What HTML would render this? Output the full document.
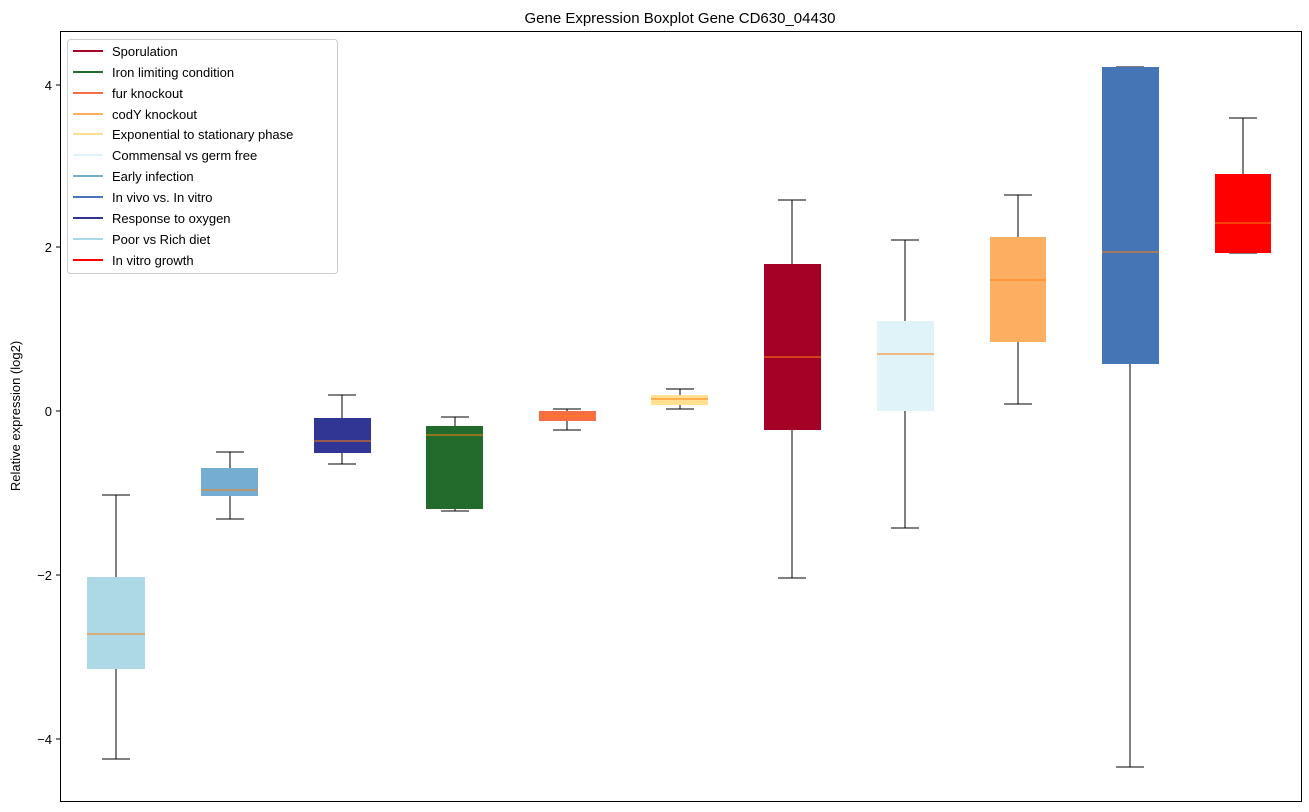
<!DOCTYPE html>
<html><head><meta charset="utf-8"><style>
html,body{margin:0;padding:0;background:#fff;}
svg{display:block;font-family:"Liberation Sans","DejaVu Sans",sans-serif;}
</style></head><body>
<svg width="1309" height="812" xmlns="http://www.w3.org/2000/svg">
<rect width="1309" height="812" fill="#fff"/>
<text x="680" y="23" font-size="15" text-anchor="middle" fill="#000">Gene Expression Boxplot Gene CD630_04430</text>
<g stroke="#000" stroke-width="1" fill="none" shape-rendering="crispEdges">
<line x1="116" y1="495" x2="116" y2="577"/><line x1="116" y1="669" x2="116" y2="759"/>
<line x1="102" y1="495" x2="130" y2="495"/><line x1="102" y1="759" x2="130" y2="759"/>
<line x1="230" y1="452" x2="230" y2="468"/><line x1="230" y1="496" x2="230" y2="519"/>
<line x1="216" y1="452" x2="244" y2="452"/><line x1="216" y1="519" x2="244" y2="519"/>
<line x1="342" y1="395" x2="342" y2="418"/><line x1="342" y1="453" x2="342" y2="464"/>
<line x1="328" y1="395" x2="356" y2="395"/><line x1="328" y1="464" x2="356" y2="464"/>
<line x1="455" y1="417" x2="455" y2="426"/><line x1="455" y1="509" x2="455" y2="511"/>
<line x1="441" y1="417" x2="469" y2="417"/><line x1="441" y1="511" x2="469" y2="511"/>
<line x1="567" y1="409" x2="567" y2="411"/><line x1="567" y1="421" x2="567" y2="430"/>
<line x1="553" y1="409" x2="581" y2="409"/><line x1="553" y1="430" x2="581" y2="430"/>
<line x1="680" y1="389" x2="680" y2="395"/><line x1="680" y1="405" x2="680" y2="409"/>
<line x1="666" y1="389" x2="694" y2="389"/><line x1="666" y1="409" x2="694" y2="409"/>
<line x1="792" y1="200" x2="792" y2="264"/><line x1="792" y1="430" x2="792" y2="578"/>
<line x1="778" y1="200" x2="806" y2="200"/><line x1="778" y1="578" x2="806" y2="578"/>
<line x1="905" y1="240" x2="905" y2="321"/><line x1="905" y1="411" x2="905" y2="528"/>
<line x1="891" y1="240" x2="919" y2="240"/><line x1="891" y1="528" x2="919" y2="528"/>
<line x1="1018" y1="195" x2="1018" y2="237"/><line x1="1018" y1="342" x2="1018" y2="404"/>
<line x1="1004" y1="195" x2="1032" y2="195"/><line x1="1004" y1="404" x2="1032" y2="404"/>
<line x1="1130" y1="364" x2="1130" y2="767"/>
<line x1="1116" y1="67" x2="1144" y2="67"/><line x1="1116" y1="767" x2="1144" y2="767"/>
<line x1="1243" y1="118" x2="1243" y2="174"/>
<line x1="1229" y1="118" x2="1257" y2="118"/><line x1="1229" y1="253" x2="1257" y2="253"/>
</g>
<g>
<rect x="87" y="577" width="58" height="92" fill="#add8e6"/>
<rect x="201" y="468" width="57" height="28" fill="#74add1"/>
<rect x="314" y="418" width="57" height="35" fill="#313695"/>
<rect x="426" y="426" width="57" height="83" fill="#226b2d"/>
<rect x="539" y="411" width="57" height="10" fill="#f46d43"/>
<rect x="651" y="395" width="57" height="10" fill="#fee090"/>
<rect x="764" y="264" width="57" height="166" fill="#a50026"/>
<rect x="877" y="321" width="57" height="90" fill="#e0f3f8"/>
<rect x="990" y="237" width="56" height="105" fill="#fdae61"/>
<rect x="1102" y="67" width="57" height="297" fill="#4575b4"/>
<rect x="1215" y="174" width="56" height="79" fill="#ff0000"/>
</g>
<g stroke="#ff7f0e" stroke-width="1" shape-rendering="crispEdges">
<line x1="87" y1="634" x2="145" y2="634"/>
<line x1="201" y1="490" x2="258" y2="490"/>
<line x1="314" y1="441" x2="371" y2="441"/>
<line x1="426" y1="435" x2="483" y2="435"/>
<line x1="539" y1="416" x2="596" y2="416"/>
<line x1="651" y1="399" x2="708" y2="399"/>
<line x1="764" y1="357" x2="821" y2="357"/>
<line x1="877" y1="354" x2="934" y2="354"/>
<line x1="990" y1="280" x2="1046" y2="280"/>
<line x1="1102" y1="252" x2="1159" y2="252"/>
<line x1="1215" y1="223" x2="1271" y2="223"/>
</g>
<rect x="60.5" y="31.5" width="1241" height="770" fill="none" stroke="#000" stroke-width="1"/>
<g stroke="#000" shape-rendering="crispEdges"><line x1="56" y1="85" x2="60" y2="85"/><line x1="56" y1="247" x2="60" y2="247"/><line x1="56" y1="411" x2="60" y2="411"/><line x1="56" y1="575" x2="60" y2="575"/><line x1="56" y1="739" x2="60" y2="739"/></g>
<g font-size="13" text-anchor="end" fill="#000">
<text x="52" y="90">4</text><text x="52" y="252">2</text><text x="52" y="416">0</text><text x="52" y="580">−2</text><text x="52" y="744">−4</text>
</g>
<text transform="translate(20,416) rotate(-90)" font-size="13" text-anchor="middle">Relative expression (log2)</text>
<rect x="67.5" y="39.5" width="270" height="234" rx="3" fill="#fff" fill-opacity="0.85" stroke="#ccc"/>
<g stroke-width="2">
<line x1="73" y1="51" x2="103" y2="51" stroke="#a50026"/>
<line x1="73" y1="72" x2="103" y2="72" stroke="#226b2d"/>
<line x1="73" y1="93" x2="103" y2="93" stroke="#f46d43"/>
<line x1="73" y1="114" x2="103" y2="114" stroke="#fdae61"/>
<line x1="73" y1="134" x2="103" y2="134" stroke="#fee090"/>
<line x1="73" y1="155" x2="103" y2="155" stroke="#e0f3f8"/>
<line x1="73" y1="176" x2="103" y2="176" stroke="#74add1"/>
<line x1="73" y1="197" x2="103" y2="197" stroke="#4575b4"/>
<line x1="73" y1="218" x2="103" y2="218" stroke="#313695"/>
<line x1="73" y1="239" x2="103" y2="239" stroke="#add8e6"/>
<line x1="73" y1="260" x2="103" y2="260" stroke="#ff0000"/>
</g>
<g font-size="13" fill="#000">
<text x="112" y="56">Sporulation</text>
<text x="112" y="77">Iron limiting condition</text>
<text x="112" y="98">fur knockout</text>
<text x="112" y="119">codY knockout</text>
<text x="112" y="139">Exponential to stationary phase</text>
<text x="112" y="160">Commensal vs germ free</text>
<text x="112" y="181">Early infection</text>
<text x="112" y="202">In vivo vs. In vitro</text>
<text x="112" y="223">Response to oxygen</text>
<text x="112" y="244">Poor vs Rich diet</text>
<text x="112" y="265">In vitro growth</text>
</g>
</svg>
</body></html>
